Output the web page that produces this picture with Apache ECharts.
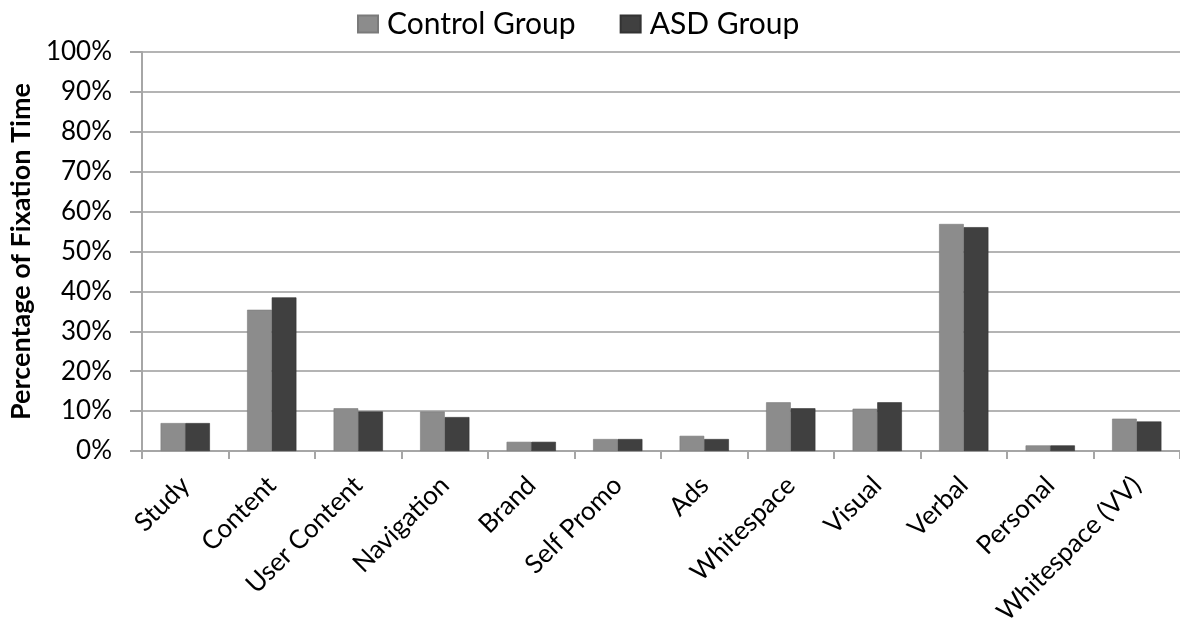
<!DOCTYPE html>
<html>
<head>
<meta charset="utf-8">
<script src="https://cdn.jsdelivr.net/npm/echarts@6/dist/echarts.min.js"></script>
<style>
  html, body { margin: 0; padding: 0; background: #fff; }
  #chart { width: 1180px; height: 635px; }
</style>
</head>
<body>
<div id="chart"></div>
<script>
// Share of fixation time per web-page element, by group (percent)
const categories = ['Study', 'Content', 'User Content', 'Navigation', 'Brand', 'Self Promo',
  'Ads', 'Whitespace', 'Visual', 'Verbal', 'Personal', 'Whitespace (VV)'];
const controlGroup = [7.0, 35.4, 10.7, 9.9, 2.3, 3.0, 3.8, 12.2, 10.6, 56.9, 1.4, 8.1];
const asdGroup     = [7.0, 38.5, 9.9, 8.5, 2.3, 3.0, 3.0, 10.7, 12.2, 56.1, 1.4, 7.4];
const seriesNames = ['Control Group', 'ASD Group'];
const yTicks = { min: 0, max: 100, interval: 10 };

const FONT = 'Lato, "Open Sans", sans-serif';
const chart = echarts.init(document.getElementById('chart'));

chart.setOption({
  animation: false,
  backgroundColor: '#ffffff',
  textStyle: { fontFamily: FONT },
  legend: {
    top: 4,
    left: 352,
    itemWidth: 20,
    itemHeight: 17,
    itemGap: 44,
    icon: 'rect',
    textStyle: { fontSize: 30, color: '#000', fontFamily: FONT, padding: [0, 0, 0, 4] },
    data: seriesNames
  },
  grid: { left: 142, right: -18, top: 52, bottom: 184, containLabel: false },
  xAxis: {
    type: 'category',
    data: categories,
    axisLine: { lineStyle: { color: '#a6a6a6', width: 2 } },
    axisTick: { show: true, length: 8, alignWithLabel: false, lineStyle: { color: '#a6a6a6', width: 2 } },
    axisLabel: {
      rotate: 45,
      interval: 0,
      margin: 30,
      fontSize: 26,
      color: '#000',
      fontFamily: FONT
    }
  },
  yAxis: {
    type: 'value',
    min: yTicks.min,
    max: yTicks.max,
    interval: yTicks.interval,
    name: 'Percentage of Fixation Time',
    nameLocation: 'middle',
    nameGap: 106,
    nameTextStyle: { fontSize: 27, fontWeight: 'bold', color: '#000', fontFamily: FONT },
    axisLine: { show: true, lineStyle: { color: '#a6a6a6', width: 2 } },
    axisTick: { show: true, inside: false, length: 12, lineStyle: { color: '#a6a6a6', width: 2 } },
    axisLabel: {
      margin: 30,
      fontSize: 26,
      color: '#000',
      fontFamily: FONT,
      formatter: v => v + '%'
    },
    splitLine: { show: true, lineStyle: { color: '#b4b4b4', width: 2 } }
  },
  series: [
    {
      name: seriesNames[0],
      type: 'bar',
      data: controlGroup,
      barGap: '0%',
      barCategoryGap: '43%',
      itemStyle: { color: '#8c8c8c', borderColor: '#7a7a7a', borderWidth: 0.6 }
    },
    {
      name: seriesNames[1],
      type: 'bar',
      data: asdGroup,
      itemStyle: { color: '#404040', borderColor: '#333333', borderWidth: 0.6 }
    }
  ]
});
</script>
</body>
</html>
